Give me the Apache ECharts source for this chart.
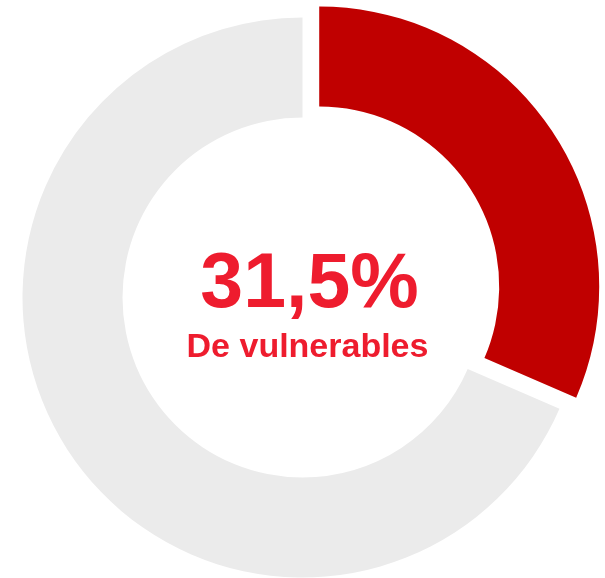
<!DOCTYPE html>
<html>
<head>
<meta charset="utf-8">
<script src="https://cdn.jsdelivr.net/npm/echarts@6/dist/echarts.min.js"></script>
<style>
  html, body { margin: 0; padding: 0; background: #fff; }
  #chart { width: 605px; height: 578px; }
</style>
</head>
<body>
<div id="chart"></div>
<script>
  const categories = ["Vulnerables", "Otros"];
  const values = [31.5, 68.5];
  const colors = ["#C00000", "#EBEBEB"];
  const centerValue = "31,5%";
  const centerLabel = "De vulnerables";

  const chart = echarts.init(document.getElementById("chart"));

  const option = {
    animation: false,
    graphic: [
      {
        type: "text",
        x: 309.5,
        y: 247,
        style: {
          text: centerValue,
          fill: "#EE1C2E",
          font: "bold 77px 'Liberation Sans', Arial, sans-serif",
          align: "center",
          verticalAlign: "top"
        }
      },
      {
        type: "text",
        x: 307.5,
        y: 331,
        style: {
          text: centerLabel,
          fill: "#EE1C2E",
          font: "bold 34px 'Liberation Sans', Arial, sans-serif",
          align: "center",
          verticalAlign: "top"
        }
      }
    ],
    series: [
      {
        type: "pie",
        radius: [180, 280],
        center: [302.5, 297.5],
        startAngle: 90,
        clockwise: true,
        selectedMode: "single",
        selectedOffset: 20,
        silent: true,
        label: { show: false },
        labelLine: { show: false },
        emphasis: { disabled: true },
        data: categories.map((name, i) => ({
          name: name,
          value: values[i],
          selected: i === 0,
          itemStyle: { color: colors[i] }
        }))
      }
    ]
  };

  chart.setOption(option);
</script>
</body>
</html>
